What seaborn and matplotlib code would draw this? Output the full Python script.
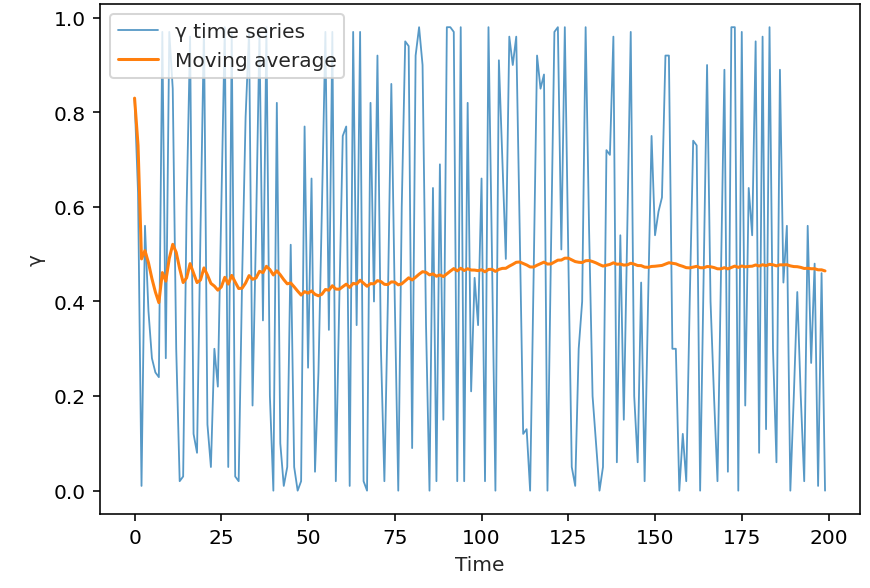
import numpy as np
import pandas as pd
import matplotlib
matplotlib.use("Agg")
import matplotlib.pyplot as plt
import seaborn as sns

# y values, t = 0..199
y_vals = [
    0.83, 0.63, 0.01, 0.56, 0.38, 0.28, 0.25, 0.24, 0.97, 0.28,
    0.97, 0.85, 0.30, 0.02, 0.03, 0.60, 0.96, 0.12, 0.08, 0.55,
    0.98, 0.14, 0.05, 0.30, 0.22, 0.60, 0.98, 0.05, 0.97, 0.03,
    0.02, 0.45, 0.79, 0.97, 0.18, 0.55, 0.97, 0.36, 0.98, 0.20,
    0.00, 0.82, 0.10, 0.01, 0.05, 0.52, 0.05, 0.00, 0.02, 0.77,
    0.26, 0.66, 0.04, 0.25, 0.60, 0.97, 0.34, 0.97, 0.02, 0.40,
    0.75, 0.77, 0.01, 0.97, 0.35, 0.97, 0.02, 0.00, 0.82, 0.40,
    0.92, 0.30, 0.02, 0.40, 0.86, 0.40, 0.00, 0.60, 0.95, 0.94,
    0.09, 0.92, 0.98, 0.90, 0.35, 0.00, 0.64, 0.02, 0.69, 0.15,
    0.98, 0.98, 0.97, 0.02, 0.98, 0.02, 0.82, 0.21, 0.45, 0.35,
    0.66, 0.02, 0.98, 0.50, 0.00, 0.91, 0.70, 0.49, 0.96, 0.90,
    0.96, 0.55, 0.12, 0.13, 0.00, 0.45, 0.92, 0.85, 0.88, 0.00,
    0.50, 0.97, 0.98, 0.51, 0.98, 0.50, 0.05, 0.01, 0.30, 0.40,
    0.98, 0.55, 0.20, 0.10, 0.00, 0.05, 0.72, 0.71, 0.96, 0.06,
    0.54, 0.15, 0.55, 0.97, 0.20, 0.06, 0.44, 0.02, 0.40, 0.75,
    0.54, 0.59, 0.62, 0.92, 0.92, 0.30, 0.30, 0.00, 0.12, 0.02,
    0.40, 0.74, 0.73, 0.00, 0.45, 0.90, 0.40, 0.20, 0.02, 0.45,
    0.89, 0.04, 0.98, 0.98, 0.00, 0.97, 0.18, 0.64, 0.54, 0.95,
    0.08, 0.96, 0.13, 0.98, 0.30, 0.06, 0.89, 0.44, 0.56, 0.00,
    0.20, 0.42, 0.20, 0.02, 0.56, 0.27, 0.48, 0.01, 0.46, 0.00,
]
time = np.arange(len(y_vals))

df = pd.DataFrame({"Time": time, "y": y_vals})
df["avg"] = df["y"].expanding().mean()

sns.set_style("ticks")
plt.rcParams["font.family"] = ["DejaVu Sans"]
plt.rcParams["axes.edgecolor"] = "black"
plt.rcParams["xtick.color"] = "black"
plt.rcParams["ytick.color"] = "black"

fig, ax = plt.subplots(figsize=(6, 4.06), dpi=145)
fig.subplots_adjust(left=0.115, right=0.988, top=0.992, bottom=0.126)

sns.lineplot(data=df, x="Time", y="y", ax=ax, color="#1f77b4",
             linewidth=0.9, alpha=0.75, label="\u03b3 time series")
sns.lineplot(data=df, x="Time", y="avg", ax=ax, color="#ff7f0e",
             linewidth=1.5, label="Moving average")

ax.set_xlabel("Time")
ax.set_ylabel("\u03b3")
ax.set_xticks(range(0, 201, 25))
ax.set_yticks([0.0, 0.2, 0.4, 0.6, 0.8, 1.0])
ax.legend(loc="upper left")

fig.savefig("out.png", dpi=145)
